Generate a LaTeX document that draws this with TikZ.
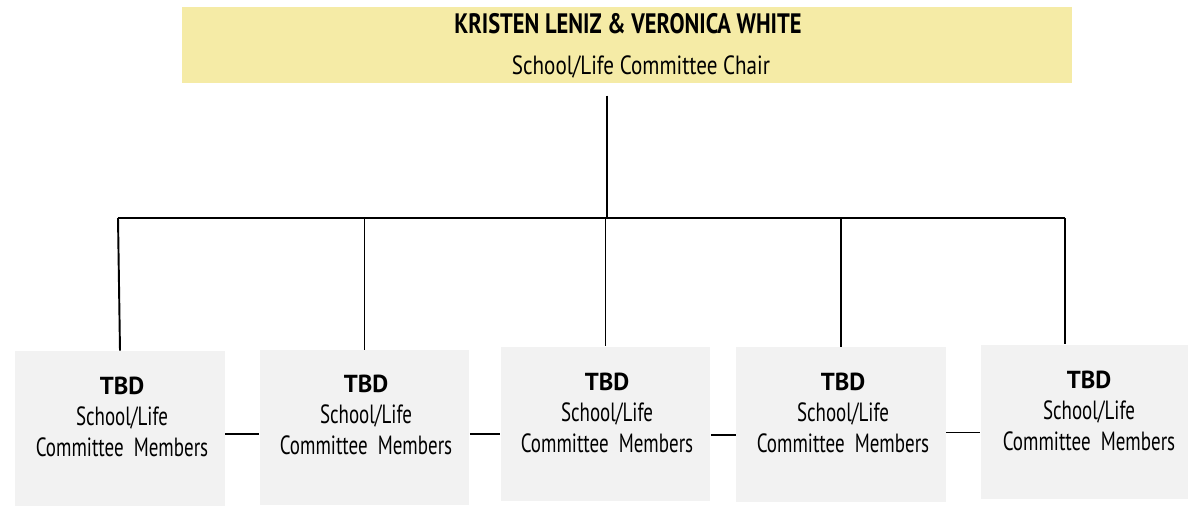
\documentclass[tikz,border=0pt]{standalone}
\usepackage{fontspec}
\setmainfont{PT Sans}
\newfontfamily\narrowfont[FakeStretch=0.72]{PT Sans}
\newfontfamily\headfont[FakeStretch=0.8]{PT Sans}
\usepackage{tikz}
\definecolor{chairfill}{RGB}{245,235,166}
\definecolor{memberfill}{RGB}{242,242,242}

\begin{document}
\begin{tikzpicture}[x=0.02cm,y=-0.02cm,
    chairbox/.style={fill=chairfill,minimum width=17.8cm,minimum height=1.52cm,inner sep=0pt},
    memberbox/.style={fill=memberfill,minimum width=4.2cm,minimum height=3.1cm,inner sep=0pt},
    membertext/.style={align=center,font=\fontsize{15}{17.8}\selectfont},
    link/.style={line width=1.1pt}]
    \useasboundingbox (0,0) rectangle (1188,506);
    % chair
    \node[chairbox] (chair) at (627,45) {};
    \node[font=\headfont\bfseries\fontsize{16}{18}\selectfont] (chairname) at (628,24) {KRISTEN LENIZ \& VERONICA WHITE};
    \node[font=\headfont\fontsize{15}{17}\selectfont] (chairrole) at (641,67) {School/Life Committee Chair};
    % members
    \node[memberbox] (m1) at (120,428.5) {};
    \node[memberbox] (m2) at (364.5,427.5) {};
    \node[memberbox] (m3) at (605.5,424) {};
    \node[memberbox] (m4) at (841,424.5) {};
    \node[memberbox] (m5) at (1085.5,422) {};
    \node[membertext] (t1) at (122,417) {{\fontsize{14}{17}\selectfont\textbf{TBD}}\\\narrowfont School/Life\\\narrowfont Committee\ \ Members};
    \node[membertext] (t2) at (366,415) {{\fontsize{14}{17}\selectfont\textbf{TBD}}\\\narrowfont School/Life\\\narrowfont Committee\ \ Members};
    \node[membertext] (t3) at (607,413) {{\fontsize{14}{17}\selectfont\textbf{TBD}}\\\narrowfont School/Life\\\narrowfont Committee\ \ Members};
    \node[membertext] (t4) at (843,413) {{\fontsize{14}{17}\selectfont\textbf{TBD}}\\\narrowfont School/Life\\\narrowfont Committee\ \ Members};
    \node[membertext] (t5) at (1089,411) {{\fontsize{14}{17}\selectfont\textbf{TBD}}\\\narrowfont School/Life\\\narrowfont Committee\ \ Members};
    % tree lines
    \coordinate (hub) at (607,218);
    \coordinate (barL) at (118,218);
    \coordinate (barR) at (1065,218);
    \draw[link,shorten <=7] (chair.south -| hub) -- (hub);
    \draw[link] (barL) -- (barR);
    \draw[link] (barL) -- (m1.north);
    \draw[link] (m2.north |- barL) -- (m2.north);
    \draw[link] (m3.north |- barL) -- (m3.north);
    \draw[link] (m4.north |- barL) -- (m4.north);
    \draw[link] (barR) -- (barR |- m5.north);
    \draw[link] ([yshift=-0.11cm]m1.east) -- ([yshift=-0.11cm]m1.east -| m2.west);
    \draw[link] ([yshift=-0.13cm]m2.east) -- ([yshift=-0.13cm]m2.east -| m3.west);
    \draw[link] ([yshift=-0.22cm]m3.east) -- ([yshift=-0.22cm]m3.east -| m4.west);
    \draw[link] ([yshift=-0.16cm]m4.east) -- ([yshift=-0.16cm]m4.east -| m5.west);
\end{tikzpicture}
\end{document}
